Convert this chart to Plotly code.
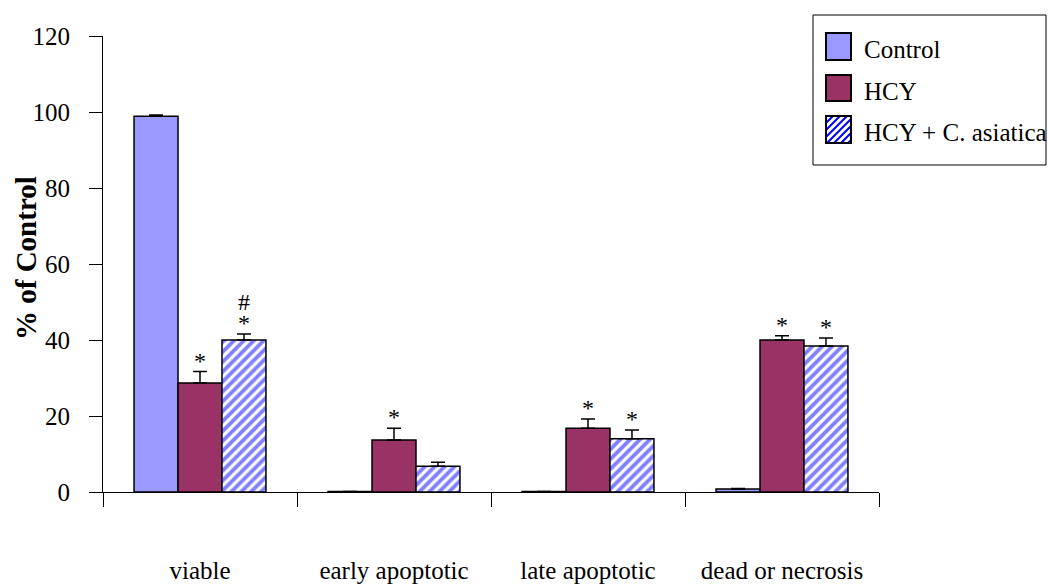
import plotly.graph_objects as go

categories = ["viable", "early apoptotic", "late apoptotic", "dead or necrosis"]
series_names = ["Control", "HCY", "HCY + C. asiatica"]
control_vals = [98.9, 0.1, 0.1, 0.8]
control_err = [0.3, 0.0, 0.0, 0.1]
hcy_vals = [28.7, 13.7, 16.8, 40.0]
hcy_err = [3.0, 3.1, 2.4, 1.1]
hcyca_vals = [40.0, 6.8, 14.0, 38.4]
hcyca_err = [1.6, 1.0, 2.3, 2.1]
# significance marks: (category, series index, text)
marks = [
    ("viable", 1, "*"), ("viable", 2, "*"), ("viable", 2, "#"),
    ("early apoptotic", 1, "*"),
    ("late apoptotic", 1, "*"), ("late apoptotic", 2, "*"),
    ("dead or necrosis", 1, "*"), ("dead or necrosis", 2, "*"),
]
y_ticks = [0, 20, 40, 60, 80, 100, 120]

FONT = "Liberation Serif, Times New Roman, serif"
W, H = 1048, 584
L, T = 103, 36
R = W - 879
B = H - 492
PW, PH = W - L - R, H - T - B

def px2paper(px, py):
    return (px - L) / PW, (H - B - py) / PH

err_style = dict(type="data", symmetric=False, color="black", thickness=1.5, width=7)

fig = go.Figure()
fig.add_trace(go.Bar(
    x=categories, y=control_vals, name=series_names[0],
    marker=dict(color="#9999FF", line=dict(color="black", width=1.5)),
    error_y=dict(array=control_err, arrayminus=[0]*4, **err_style),
    showlegend=False,
))
fig.add_trace(go.Bar(
    x=categories, y=hcy_vals, name=series_names[1],
    marker=dict(color="#993366", line=dict(color="black", width=1.5)),
    error_y=dict(array=hcy_err, arrayminus=[0]*4, **err_style),
    showlegend=False,
))
fig.add_trace(go.Bar(
    x=categories, y=hcyca_vals, name=series_names[2],
    marker=dict(color="white", line=dict(color="black", width=1.5),
                pattern=dict(shape="/", fgcolor="#0000FF", bgcolor="white",
                             size=7, solidity=0.55)),
    error_y=dict(array=hcyca_err, arrayminus=[0]*4, **err_style),
    showlegend=False,
))

bargap = 0.32
cat_px = PW / len(categories)
bar_px = cat_px * (1 - bargap) / 3
tops = [
    [v + e for v, e in zip(control_vals, control_err)],
    [v + e for v, e in zip(hcy_vals, hcy_err)],
    [v + e for v, e in zip(hcyca_vals, hcyca_err)],
]
annotations = []
for cat, si, txt in marks:
    ci = categories.index(cat)
    top = tops[si][ci]
    annotations.append(dict(
        x=cat, y=top, xref="x", yref="y", text=txt, showarrow=False,
        xshift=(si - 1) * bar_px, yshift=-4 if txt == "*" else 17, yanchor="bottom",
        font=dict(family=FONT, size=24, color="black"),
    ))

# y-axis title
annotations.append(dict(
    xref="paper", yref="paper", x=px2paper(26, 0)[0], y=px2paper(0, 258)[1],
    text="<b>% of Control</b>", textangle=-90, showarrow=False,
    xanchor="center", yanchor="middle",
    font=dict(family=FONT, size=29, color="black"),
))

# manual legend
shapes = []
bx0, by0 = px2paper(813, 15)
bx1, by1 = px2paper(1046, 165)
shapes.append(dict(type="rect", xref="paper", yref="paper", x0=bx0, y0=by1, x1=bx1, y1=by0,
                   line=dict(color="black", width=1), fillcolor="white", layer="above"))
leg_colors = ["#9999FF", "#993366", "white"]
sw_y = [(33, 60), (75, 101), (116, 143)]
sx0, sx1 = 826, 851
for i, name in enumerate(series_names):
    ya, yb = sw_y[i]
    p0 = px2paper(sx0, yb)
    p1 = px2paper(sx1, ya)
    if i == 2:
        segs = []
        c = sx0 + ya
        while c <= sx1 + yb:
            lo = max(sx0, c - yb)
            hi = min(sx1, c - ya)
            if lo < hi:
                a = px2paper(lo, c - lo)
                b = px2paper(hi, c - hi)
                segs.append(f"M{a[0]},{a[1]}L{b[0]},{b[1]}")
            c += 7
        shapes.append(dict(type="path", xref="paper", yref="paper", path="".join(segs),
                           line=dict(color="#0000FF", width=2), layer="above"))
    shapes.append(dict(type="rect", xref="paper", yref="paper", x0=p0[0], y0=p0[1],
                       x1=p1[0], y1=p1[1], line=dict(color="black", width=2),
                       fillcolor=leg_colors[i] if i < 2 else "rgba(0,0,0,0)", layer="above"))
    tx, ty = px2paper(862, (ya + yb) / 2 + 3)
    annotations.append(dict(xref="paper", yref="paper", x=tx, y=ty, text=name,
                            showarrow=False, xanchor="left", yanchor="middle",
                            font=dict(family=FONT, size=25, color="black")))

fig.update_layout(
    width=W, height=H,
    margin=dict(l=L, r=R, t=T, b=B, autoexpand=False),
    paper_bgcolor="white", plot_bgcolor="white",
    barmode="group", bargap=bargap, bargroupgap=0,
    showlegend=False,
    font=dict(family=FONT, size=25, color="black"),
    annotations=annotations, shapes=shapes,
)
fig.update_xaxes(
    type="category", showline=True, linecolor="black", linewidth=1,
    ticks="outside", tickson="boundaries", ticklen=14, tickcolor="black",
    showgrid=False, zeroline=False, ticklabelstandoff=56,
    tickfont=dict(family=FONT, size=25, color="black"),
)
fig.update_yaxes(
    range=[0, 120], tickvals=y_ticks, showline=True, linecolor="black", linewidth=1,
    ticks="outside", ticklen=13, tickcolor="black", showgrid=False, zeroline=False,
    ticklabelstandoff=14, tickfont=dict(family=FONT, size=25, color="black"),
)
fig.write_html(
    "out.html",
    config={"displayModeBar": False},
    post_script="document.body.style.margin='0';document.body.style.overflow='hidden';",
)
